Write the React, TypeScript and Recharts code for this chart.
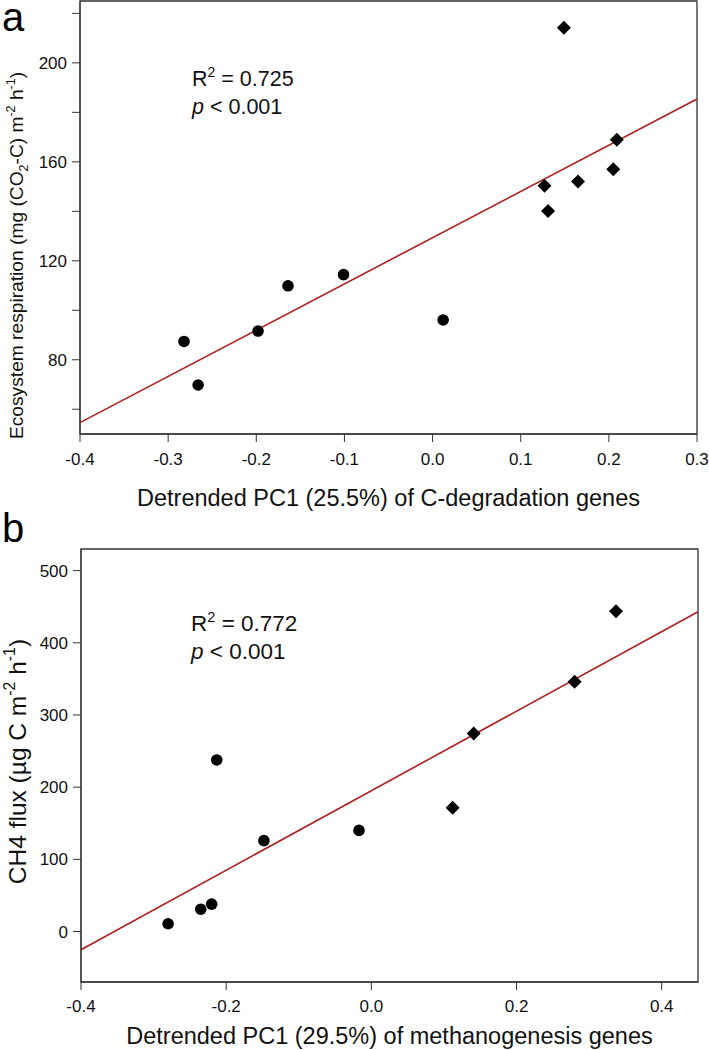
import React from "react";
import {
  ScatterChart,
  Scatter,
  XAxis,
  YAxis,
  ReferenceLine,
  ReferenceArea,
  Label,
} from "recharts";

const FONT = '"Liberation Sans", Arial, Helvetica, sans-serif';
const FIT_RED = "#b01e1e";
const AXIS = "#333";

// panel a: ecosystem respiration vs detrended PC1 of C-degradation genes
const aCircleX = [-0.282, -0.266, -0.198, -0.164, -0.101, 0.012];
const aCircleY = [87.4, 69.8, 91.6, 109.9, 114.4, 96.1];
const aDiamondX = [0.127, 0.131, 0.149, 0.165, 0.205, 0.209];
const aDiamondY = [150.3, 140.1, 214.2, 152.0, 157.0, 168.9];
const aFitX = [-0.4, 0.3];
const aFitY = [54.6, 185.4];
const aXTicks = [-0.4, -0.3, -0.2, -0.1, 0, 0.1, 0.2, 0.3];
const aYTicks = [60, 80, 100, 120, 140, 160, 180, 200, 220];

// panel b: CH4 flux vs detrended PC1 of methanogenesis genes
const bCircleX = [-0.28, -0.235, -0.22, -0.213, -0.148, -0.017];
const bCircleY = [10.7, 30.9, 37.9, 237.7, 125.9, 140.1];
const bDiamondX = [0.112, 0.141, 0.28, 0.337];
const bDiamondY = [171.6, 274.3, 345.9, 443.6];
const bFitX = [-0.4, 0.45];
const bFitY = [-25.4, 443];
const bXTicks = [-0.4, -0.2, 0, 0.2, 0.4];
const bYTicks = [0, 100, 200, 300, 400, 500];

const zip = (xs: number[], ys: number[]) => xs.map((x, i) => ({ x, y: ys[i] }));

function Dot(props: any) {
  return <circle cx={props.cx} cy={props.cy} r={5.8} fill="#000" />;
}

function Diamond(props: any) {
  const { cx, cy } = props;
  const r = 7;
  return <path d={`M${cx},${cy - r}L${cx + r},${cy}L${cx},${cy + r}L${cx - r},${cy}Z`} fill="#000" />;
}

// [text, "sup" | "sub" | ""]
type Piece = [string, string];

function renderPieces(pieces: Piece[], size: number) {
  let prev = 0;
  return pieces.map(([t, kind], i) => {
    const cur = kind === "sup" ? -0.42 * size : kind === "sub" ? 0.28 * size : 0;
    const dy = cur - prev;
    prev = cur;
    return (
      <tspan key={i} dy={dy !== 0 ? dy : undefined} fontSize={kind ? size * 0.65 : undefined}>
        {t}
      </tspan>
    );
  });
}

type PanelProps = {
  top: number;
  width: number;
  height: number;
  margin: { top: number; right: number; bottom: number; left: number };
  yAxisWidth: number;
  xAxisHeight: number;
  xDomain: number[];
  yDomain: number[];
  xTicks: number[];
  yTicks: number[];
  yFormat: (v: number) => string;
  xFormat: (v: number) => string;
  tickMargin: number;
  circles: { x: number; y: number }[];
  diamonds: { x: number; y: number }[];
  fit: { x: number; y: number }[];
  xTitle: string;
  xTitleOffset: number;
  yTitle: Piece[];
  yTitleX: number;
  yTitleShift: number;
  titleSize: number;
  yTitleSize: number;
};

function Panel(p: PanelProps) {
  return (
    <div style={{ position: "absolute", left: 0, top: p.top }}>
      <ScatterChart width={p.width} height={p.height} margin={p.margin}>
        <XAxis
          type="number"
          dataKey="x"
          domain={p.xDomain}
          ticks={p.xTicks}
          allowDataOverflow
          height={p.xAxisHeight}
          stroke={AXIS}
          tickSize={8}
          tickMargin={p.tickMargin}
          tickFormatter={p.xFormat}
          fontSize={17}
          tick={{ fontSize: 17, fill: "#111", fontFamily: FONT }}
        >
          <Label
            content={(props: any) => {
              const vb = props.viewBox;
              return (
                <text
                  x={vb.x + vb.width / 2}
                  y={vb.y + p.xTitleOffset}
                  textAnchor="middle"
                  fontSize={p.titleSize}
                  fontFamily={FONT}
                  fill="#111"
                >
                  {p.xTitle}
                </text>
              );
            }}
          />
        </XAxis>
        <YAxis
          type="number"
          dataKey="y"
          domain={p.yDomain}
          ticks={p.yTicks}
          allowDataOverflow
          width={p.yAxisWidth}
          stroke={AXIS}
          tickSize={8}
          tickMargin={5}
          tickFormatter={p.yFormat}
          fontSize={17}
          tick={{ fontSize: 17, fill: "#111", fontFamily: FONT }}
        >
          <Label
            content={(props: any) => {
              const vb = props.viewBox;
              const cy = vb.y + vb.height / 2 + p.yTitleShift;
              return (
                <text
                  x={p.yTitleX}
                  y={cy}
                  transform={`rotate(-90, ${p.yTitleX}, ${cy})`}
                  textAnchor="middle"
                  fontSize={p.yTitleSize}
                  fontFamily={FONT}
                  fill="#111"
                >
                  {renderPieces(p.yTitle, p.yTitleSize)}
                </text>
              );
            }}
          />
        </YAxis>
        <ReferenceArea
          x1={p.xDomain[0]}
          x2={p.xDomain[1]}
          y1={p.yDomain[0]}
          y2={p.yDomain[1]}
          fill="none"
          fillOpacity={0}
          stroke={AXIS}
          strokeWidth={1.3}
        />
        <ReferenceLine segment={p.fit} stroke={FIT_RED} strokeWidth={1.6} ifOverflow="visible" />
        <Scatter data={p.circles} shape={Dot} isAnimationActive={false} />
        <Scatter data={p.diamonds} shape={Diamond} isAnimationActive={false} />
      </ScatterChart>
    </div>
  );
}

function Stats({ left, top, r2, size }: { left: number; top: number; r2: string; size: number }) {
  return (
    <svg
      width={709}
      height={140}
      style={{ position: "absolute", left: 0, top, pointerEvents: "none" }}
    >
      <text x={left} y={40} fontSize={size} fontFamily={FONT} fill="#111">
        {renderPieces([["R", ""], ["2", "sup"], [" = " + r2, ""]], size)}
      </text>
      <text x={left} y={68} fontSize={size} fontFamily={FONT} fill="#111">
        <tspan fontStyle="italic">p</tspan>
        <tspan>{" < 0.001"}</tspan>
      </text>
    </svg>
  );
}

function PanelLetter({ letter, top }: { letter: string; top: number }) {
  return (
    <svg width={60} height={60} style={{ position: "absolute", left: 0, top, pointerEvents: "none" }}>
      <text x={2} y={44} fontSize={40} fontFamily={FONT} fill="#000">
        {letter}
      </text>
    </svg>
  );
}

export default function App() {
  const fmt1 = (v: number) => v.toFixed(1);
  return (
    <div style={{ position: "absolute", left: 0, top: 0, width: 709, height: 1050, background: "#fff" }}>
      <Panel
        top={0}
        width={709}
        height={520}
        margin={{ top: 1, right: 12, bottom: 0, left: 0 }}
        yAxisWidth={80}
        xAxisHeight={86}
        xDomain={[-0.4, 0.3]}
        yDomain={[50, 225]}
        xTicks={aXTicks}
        yTicks={aYTicks}
        xFormat={fmt1}
        yFormat={(v: number) => (v % 40 === 0 ? String(v) : "")}
        tickMargin={11}
        circles={zip(aCircleX, aCircleY)}
        diamonds={zip(aDiamondX, aDiamondY)}
        fit={zip(aFitX, aFitY)}
        xTitle="Detrended PC1 (25.5%) of C-degradation genes"
        xTitleOffset={72}
        yTitle={[
          ["Ecosystem respiration (mg (CO", ""],
          ["2", "sub"],
          ["-C) m", ""],
          ["-2", "sup"],
          [" h", ""],
          ["-1", "sup"],
          [")", ""],
        ]}
        yTitleX={23}
        yTitleShift={38}
        titleSize={23.5}
        yTitleSize={19.2}
      />
      <Panel
        top={540}
        width={709}
        height={510}
        margin={{ top: 9, right: 11, bottom: 0, left: 0 }}
        yAxisWidth={81}
        xAxisHeight={68}
        xDomain={[-0.4, 0.45]}
        yDomain={[-70, 530]}
        xTicks={bXTicks}
        yTicks={bYTicks}
        xFormat={fmt1}
        yFormat={(v: number) => String(v)}
        tickMargin={10}
        circles={zip(bCircleX, bCircleY)}
        diamonds={zip(bDiamondX, bDiamondY)}
        fit={zip(bFitX, bFitY)}
        xTitle="Detrended PC1 (29.5%) of methanogenesis genes"
        xTitleOffset={62}
        yTitle={[
          ["CH4 flux (\u00b5g C m", ""],
          ["-2", "sup"],
          [" h", ""],
          ["-1", "sup"],
          [")", ""],
        ]}
        yTitleX={25.5}
        yTitleShift={-4}
        titleSize={23.5}
        yTitleSize={24.5}
      />
      <Stats left={192} top={46} r2="0.725" size={21.5} />
      <Stats left={191} top={591} r2="0.772" size={22.5} />
      <PanelLetter letter="a" top={-13} />
      <PanelLetter letter="b" top={498} />
    </div>
  );
}
